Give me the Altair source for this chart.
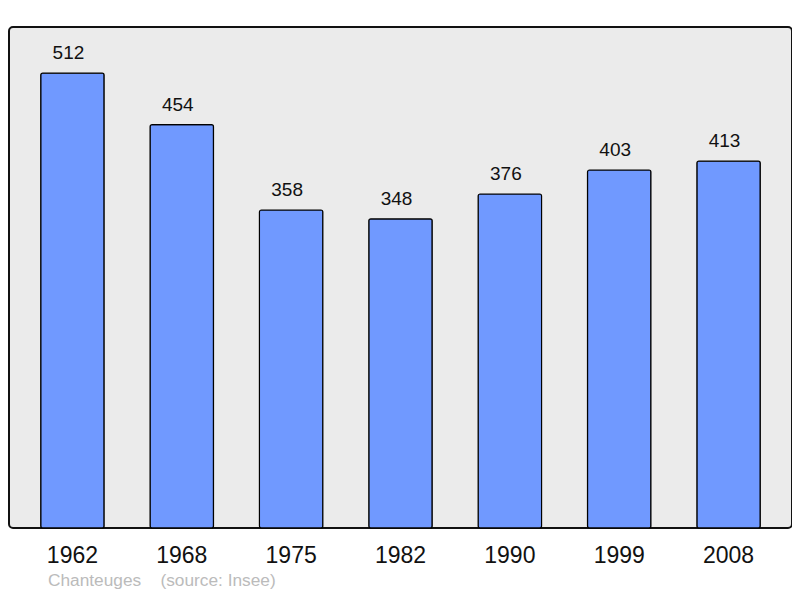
import altair as alt
import pandas as pd

years = ["1962", "1968", "1975", "1982", "1990", "1999", "2008"]
population = [512, 454, 358, 348, 376, 403, 413]

df = pd.DataFrame({"year": years, "pop": population})

x = alt.X("year:N", sort=years, title=None,
          scale=alt.Scale(paddingInner=0.42, paddingOuter=0.29),
          axis=alt.Axis(domain=False, ticks=False, labelAngle=0, labelFontSize=23,
                        labelColor="#111", labelFont="Liberation Sans", labelPadding=27,
                        labelBaseline="middle"))
y = alt.Y("pop:Q", title=None, scale=alt.Scale(domain=[0, 564], nice=False),
          axis=None)

bars = alt.Chart(df).mark_bar(color="#7099ff", stroke="#000", strokeWidth=1.2,
                              cornerRadius=2).encode(x=x, y=y)
labels = alt.Chart(df).mark_text(dy=-14, dx=-4, fontSize=19, font="Liberation Sans",
                                 color="#111", baseline="alphabetic").encode(
    x=x, y=y, text="pop:Q")

chart = (bars + labels).properties(
    width=783, height=501,
    padding={"left": 1, "top": 19, "right": 0, "bottom": 62},
    autosize=alt.AutoSizeParams(type="none"),
    title=alt.TitleParams("Chanteuges\u00a0\u00a0\u00a0\u00a0(source: Insee)", orient="bottom",
                          anchor="start", dx=39, offset=5, fontSize=17.3,
                          fontWeight="normal", color="#bbbbbb", font="Liberation Sans"),
).configure_view(fill="#ebebeb", stroke="#111", strokeWidth=2, cornerRadius=4)

chart.save("out.html", embed_options={"renderer": "svg", "actions": False})
